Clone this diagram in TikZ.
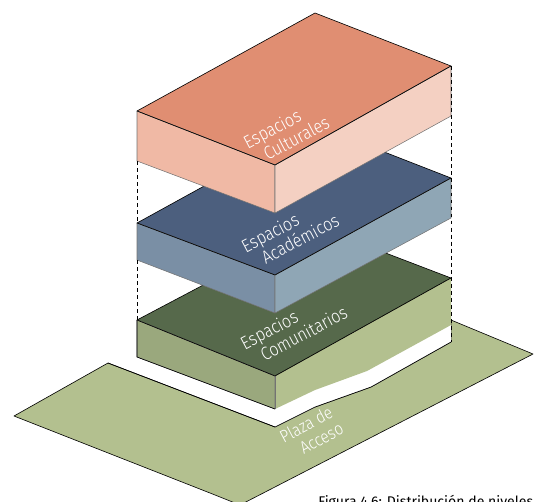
\documentclass[tikz,border=0pt]{standalone}
\usepackage{fontspec}
\setmainfont{Fira Sans Light}[FakeStretch=0.87]
\newfontfamily\captionfont{Fira Sans}
\usetikzlibrary{positioning}
\definecolor{red_top}{HTML}{E08E72}
\definecolor{red_left}{HTML}{F0B9A5}
\definecolor{red_right}{HTML}{F4D0C2}
\definecolor{blue_top}{HTML}{4C5F7E}
\definecolor{blue_left}{HTML}{7A8FA5}
\definecolor{blue_right}{HTML}{8FA6B5}
\definecolor{green_top}{HTML}{56694B}
\definecolor{green_left}{HTML}{9AA87D}
\definecolor{green_right}{HTML}{B3C08F}
\tikzset{
    top/.style={draw=black, line width=0.35pt, line join=round},
    side/.style={draw=black!55, line width=0.3pt, line join=round},
    guide/.style={draw=black, line width=0.35pt, dash pattern=on 2.2pt off 1.8pt},
    label/.style={text=white, rotate=28, anchor=south west, align=left, inner sep=0pt, font=\fontsize{10.5}{11}\selectfont}
}

\begin{document}
\begin{tikzpicture}[x=0.02cm, y=-0.02cm]
    \useasboundingbox (0, 0) rectangle (540, 501);

    % Corners
    \coordinate (Red_back) at (315, 13);
    \coordinate (Red_right) at (451, 66);
    \coordinate (Red_front) at (275, 165);
    \coordinate (Red_left) at (137, 111);
    \coordinate (Red_right_low) at (451, 116);
    \coordinate (Red_front_low) at (275, 213);
    \coordinate (Red_left_low) at (137, 161);

    \coordinate (Blue_back) at (315, 125);
    \coordinate (Blue_right) at (451, 178);
    \coordinate (Blue_front) at (275, 275);
    \coordinate (Blue_left) at (137, 223);
    \coordinate (Blue_right_low) at (451, 218);
    \coordinate (Blue_front_low) at (275, 313);
    \coordinate (Blue_left_low) at (137, 260);

    \coordinate (Green_back) at (315, 226);
    \coordinate (Green_right) at (451, 278);
    \coordinate (Green_front) at (275, 376);
    \coordinate (Green_left) at (137, 320);
    \coordinate (Green_right_low) at (451, 325);
    \coordinate (Green_front_low) at (275, 409);
    \coordinate (Green_left_low) at (137, 357);

    \coordinate (Plaza_notch) at (275, 427);
    \coordinate (Plaza_bend_a) at (315, 407);
    \coordinate (Plaza_bend_b) at (371, 387);
    \coordinate (Plaza_inner) at (451, 342);

    % Plaza
    \filldraw[top, fill=green_right] (14, 416) -- (108, 363) -- (Plaza_notch) -- (Plaza_bend_a) -- (Plaza_bend_b) -- (Plaza_inner) -- (451, 320) -- (533, 354) -- (240, 505) -- (210, 493) -- cycle;

    % Levels, bottom up
    \fill[white] (Green_left_low) -- (Green_front_low) -- (Plaza_notch) -- (Plaza_bend_a) -- (Plaza_bend_b) -- (Plaza_inner) -- (Green_right_low) -- cycle;
    \draw[top] (108, 363) -- (Plaza_notch) -- (Plaza_bend_a) -- (Plaza_bend_b) -- (Plaza_inner);
    \filldraw[top, fill=green_top] (Green_back) -- (Green_right) -- (Green_front) -- (Green_left) -- cycle;
    \filldraw[side, fill=green_left] (Green_left) -- (Green_front) -- (Green_front_low) -- (Green_left_low) -- cycle;
    \fill[green_right] (Green_front) -- (Green_right) -- (Green_right_low) -- (367, 371) -- (315, 390) -- (Green_front_low) -- cycle;
    \draw[side] (Green_front) -- (Green_front_low);
    \draw[top] (Green_left) -- (Green_front) -- (Green_right);
    \draw[top] (Green_left) -- (Green_left_low) -- (Green_front_low);

    \filldraw[top, fill=blue_top] (Blue_back) -- (Blue_right) -- (Blue_front) -- (Blue_left) -- cycle;
    \filldraw[side, fill=blue_left] (Blue_left) -- (Blue_front) -- (Blue_front_low) -- (Blue_left_low) -- cycle;
    \filldraw[side, fill=blue_right] (Blue_front) -- (Blue_right) -- (Blue_right_low) -- (Blue_front_low) -- cycle;
    \draw[top] (Blue_left) -- (Blue_front) -- (Blue_right);

    \filldraw[top, fill=red_top] (Red_back) -- (Red_right) -- (Red_front) -- (Red_left) -- cycle;
    \filldraw[side, fill=red_left] (Red_left) -- (Red_front) -- (Red_front_low) -- (Red_left_low) -- cycle;
    \filldraw[side, fill=red_right] (Red_front) -- (Red_right) -- (Red_right_low) -- (Red_front_low) -- cycle;
    \draw[top] (Red_left) -- (Red_front) -- (Red_right);

    % Guides
    \draw[guide] (Red_left_low) -- (Blue_left);
    \draw[guide] (Blue_left_low) -- (Green_left);
    \draw[guide] (Red_right) -- (Plaza_inner);

    % Labels
    \node (Red_label) [label] at (257, 167) {Espacios\\\hspace{6.9pt}Culturales};
    \node (Blue_label) [label] at (255, 271) {Espacios\\\hspace{6.9pt}Académicos};
    \node (Green_label) [label] at (254, 368) {Espacios\\\hspace{6.9pt}Comunitarios};
    \node (Plaza_label) [label, font=\fontsize{10}{11}\selectfont] at (293, 461) {Plaza de\\\hspace{6.9pt}Acceso};
    \node (Caption) [anchor=base west, inner sep=0pt, font=\captionfont\fontsize{8}{10}\selectfont] at (318, 506) {Figura 4.6: Distribución de niveles};
\end{tikzpicture}
\end{document}
